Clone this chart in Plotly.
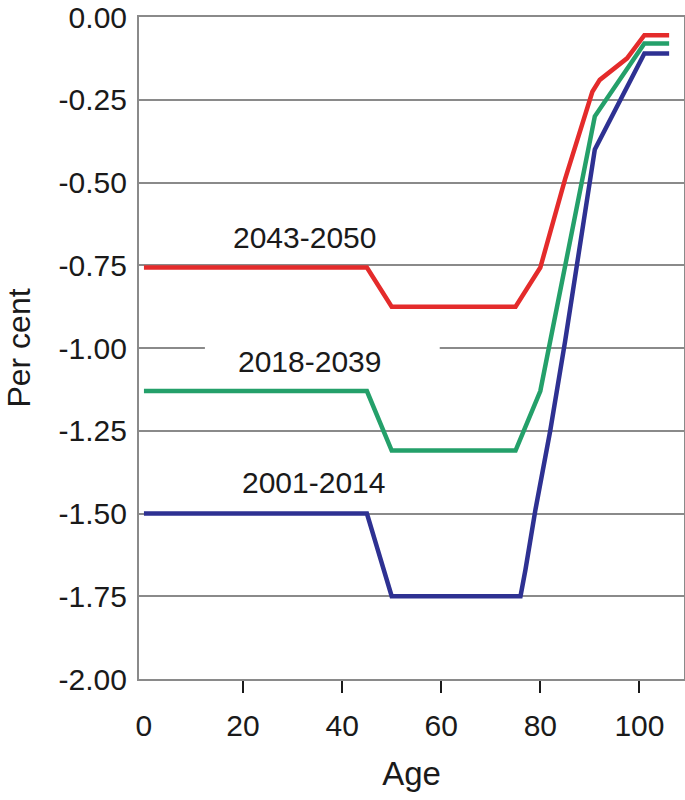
import plotly.graph_objects as go

# Data
age_2001 = [0, 45, 47, 50, 76, 77, 79, 82, 85, 88, 91, 101, 106]
val_2001 = [-1.50, -1.50, -1.60, -1.75, -1.75, -1.67, -1.49, -1.25, -0.98, -0.69, -0.40, -0.11, -0.11]

age_2018 = [0, 45, 50, 75, 80, 91, 101, 106]
val_2018 = [-1.13, -1.13, -1.31, -1.31, -1.13, -0.30, -0.08, -0.08]

age_2043 = [0, 45, 50, 75, 80, 85, 90.5, 92, 97.5, 101, 106]
val_2043 = [-0.757, -0.757, -0.875, -0.875, -0.757, -0.49, -0.226, -0.19, -0.125, -0.055, -0.055]

series_names = ["2001-2014", "2018-2039", "2043-2050"]
series_colors = ["#2E3192", "#24A06A", "#E42B2B"]

label_x = [34.2, 33.4, 32.4]
label_y = [-1.405, -1.042, -0.665]

x_ticks = [0, 20, 40, 60, 80, 100]
y_ticks = [0.0, -0.25, -0.5, -0.75, -1.0, -1.25, -1.5, -1.75, -2.0]

fig = go.Figure()
for ages, vals, name, color in zip(
    [age_2001, age_2018, age_2043], [val_2001, val_2018, val_2043], series_names, series_colors
):
    fig.add_trace(go.Scatter(x=ages, y=vals, mode="lines", name=name,
                             line=dict(color=color, width=4.5), showlegend=False))

for name, lx, ly in zip(series_names, label_x, label_y):
    fig.add_annotation(x=lx, y=ly, text=name, showarrow=False,
                       font=dict(size=30, color="#1a1a1a"), xanchor="center", yanchor="middle")

# white boxes behind labels that interrupt gridlines
fig.add_shape(type="rect", x0=12.3, x1=59.7, y0=-1.07, y1=-0.975, layer="between",
              fillcolor="white", line=dict(width=0))
fig.add_shape(type="rect", x0=12.3, x1=44.5, y0=-0.745, y1=-0.6, layer="between",
              fillcolor="white", line=dict(width=0))

fig.update_layout(
    width=685, height=800,
    margin=dict(l=139, r=1, t=17, b=121),
    paper_bgcolor="white", plot_bgcolor="white",
    font=dict(family="Liberation Sans, Arial, sans-serif", color="#1a1a1a"),
)
fig.update_xaxes(
    range=[-1, 109], tickvals=x_ticks, ticktext=[str(v) for v in x_ticks],
    ticks="", showgrid=False, zeroline=False, automargin=False,
    showline=True, linecolor="#8a8a8a", linewidth=2, mirror=True,
    tickfont=dict(size=30), ticklabelstandoff=19,
    minor=dict(tickvals=[20, 40, 60, 80, 100], ticks="outside", ticklen=12,
               tickcolor="#1a1a1a", tickwidth=2, showgrid=False),
    title=dict(text="Age", font=dict(size=33), standoff=21),
)
fig.update_yaxes(
    range=[-2, 0], tickvals=y_ticks, ticktext=[f"{v:.2f}" for v in y_ticks],
    ticks="", showgrid=True, gridcolor="#8a8a8a", gridwidth=1.5, zeroline=False,
    showline=True, linecolor="#8a8a8a", linewidth=2, mirror=True, automargin=False,
    tickfont=dict(size=30), ticklabelstandoff=4,
    title=dict(text="Per cent", font=dict(size=32), standoff=18),
)

fig.write_html("out.html", config={"displayModeBar": False},
               post_script="document.body.style.margin='0';")
